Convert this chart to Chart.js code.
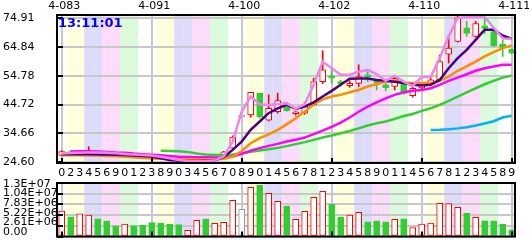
<!DOCTYPE html>
<html>
<head>
<meta charset="utf-8">
<script src="https://cdn.jsdelivr.net/npm/chart.js"></script>
<style>
  body { margin: 0; background: #fff; }
  #wrap { position: relative; width: 529px; height: 240px; overflow: hidden; }
  #main { position: absolute; left: 0; top: 0; }
  #vol { position: absolute; left: 0; top: 170px; }
</style>
</head>
<body>
<div id="wrap">
  <canvas id="main" width="529" height="182"></canvas>
  <canvas id="vol" width="529" height="70"></canvas>
</div>
<script>
// bottom digits under each candle
const digitLabels = ['0','2','3','4','5','6','9','0','1','2','3','8','9','0','3','4','5','6','7','0',
  '8','9','0','1','4','5','6','7','8','1','2','3','4','5','8','9','0','1','1','4',
  '5','6','7','8','1','2','3','4','5','8','9'];
const topLabels = ['4-083','4-091','4-100','4-102','4-110','4-111'];
const priceTicks = [24.60, 34.66, 44.72, 54.78, 64.84, 74.91];
const volTicks = [0, 2.61e6, 5.22e6, 7.83e6, 1.044e7, 1.305e7];
const volTickLabels = ['0.00','2.61E+06','5.22E+06','7.83E+06','1.04E+07','1.3E+07'];
const clockText = '13:11:01';

const open  = [27.0,28.3,27.2,27.8,28.4,27.9,27.5,27.1,27.4,27.0, 26.7,26.2,25.7,25.3,24.9,25.2,25.5,25.1,26.3,29.5,
               40.4,41.1,48.7,39.3,42.2,44.0,41.5,41.7,44.6,52.7, 54.7,52.7,51.3,52.1,55.1,53.1,51.6,51.0,52.1,47.8,
               50.5,51.9,53.3,62.3,66.7,71.5,68.5,72.2,70.2,65.8,64.0];
const high  = [28.6,28.8,28.0,30.0,28.6,28.1,27.7,27.6,27.5,27.2, 26.9,26.4,25.9,25.5,25.4,25.8,25.7,25.9,28.4,33.8,
               40.6,49.0,48.7,48.1,48.7,44.8,42.3,45.5,53.9,63.5, 57.4,53.2,53.0,58.6,56.2,53.5,52.7,54.7,52.5,50.8,
               52.0,54.0,62.0,68.8,75.8,73.8,73.7,74.8,70.6,67.3,64.2];
const low   = [26.8,27.3,27.0,27.6,27.6,27.3,27.0,26.9,26.8,26.5, 26.0,25.5,25.0,24.8,24.8,25.0,24.9,25.0,26.0,29.0,
               40.2,40.3,40.0,39.0,41.7,42.4,41.0,41.3,44.3,52.0, 52.1,51.2,50.7,51.0,52.7,49.8,49.5,49.8,48.3,47.3,
               50.2,51.6,53.0,59.2,66.5,68.5,68.3,69.5,65.0,61.5,62.4];
const close = [28.3,27.6,27.8,28.4,27.8,27.5,27.2,27.4,27.0,26.7, 26.2,25.7,25.3,25.0,25.2,25.5,25.1,25.6,28.2,33.4,
               40.4,49.0,40.5,43.4,46.1,42.6,41.9,44.5,52.7,56.8, 53.9,51.9,52.1,54.5,54.3,52.2,50.6,53.9,48.6,50.4,
               51.6,53.3,59.7,64.4,75.0,69.5,73.0,71.3,65.3,64.4,62.6];
const volume = [6.2,4.8,5.5,5.2,4.3,3.8,2.6,3.05,2.6,2.8, 3.4,3.2,3.05,2.9,1.5,3.95,4.3,3.2,3.45,8.8,
                6.6,12.0,12.55,10.5,8.6,7.45,4.2,6.15,9.55,11.0, 7.9,4.75,5.25,5.9,3.55,3.8,3.55,4.2,4.3,2.2,
                3.0,3.3,8.1,8.0,7.1,5.7,4.7,3.8,3.8,3.05,1.6].map(v => v * 1e6);

const ma5   = [27.6,27.8,27.9,28.0,28.0,27.9,27.7,27.5,27.3,27.1, 26.9,26.5,26.0,25.4,25.0,24.9,24.9,25.2,26.6,31.8,
               42.2,47.5,44.8,44.6,44.8,45.2,43.2,44.8,51.6,59.7, 57.4,55.1,55.1,56.2,56.8,55.3,53.0,54.7,52.7,51.2,
               54.3,54.3,60.9,68.5,74.9,75.3,75.3,75.3,71.5,67.8,67.6];
const ma10  = [27.4,27.4,27.4,27.4,27.3,27.3,27.2,27.1,26.9,26.8, 26.6,26.0,25.4,25.1,25.0,25.0,25.1,25.2,26.4,28.9,
               31.8,35.9,38.8,41.7,43.4,44.6,43.2,44.0,45.5,47.5, 49.5,51.6,53.7,53.8,53.8,53.3,53.0,52.7,52.2,51.6,
               51.4,51.6,53.3,57.4,60.9,63.8,67.3,70.8,70.8,68.8,67.6];
const ma20  = [27.0,27.0,27.0,26.9,26.9,26.8,26.7,26.5,26.3,26.1, 25.9,25.8,25.7,25.6,25.6,25.5,25.5,25.6,25.8,26.5,
               28.5,31.2,33.0,34.3,35.9,37.8,39.9,42.2,44.8,46.5, 47.5,48.1,49.0,49.8,51.0,51.8,52.7,53.1,52.4,52.2,
               52.2,52.2,53.0,54.5,56.5,58.0,59.7,61.5,63.0,64.4,65.3];
const ma30  = [null,28.3,28.4,28.4,28.3,28.2,28.0,27.9,27.6,27.4, 27.2,27.0,26.8,26.5,26.4,26.3,26.3,26.2,26.3,26.6,
               27.5,28.6,29.5,30.3,31.0,31.8,32.4,33.2,34.4,35.6, 36.9,38.4,40.2,42.2,44.0,45.5,46.9,48.1,49.0,49.5,
               49.8,50.4,51.6,53.0,54.1,55.3,56.5,57.4,58.0,58.6,58.6];
const ma60  = [null,null,null,null,null,null,null,null,null,null, null,28.6,28.5,28.4,28.2,27.6,27.3,27.1,27.1,27.3,
               27.7,28.2,28.7,29.1,29.6,30.2,30.9,31.6,32.4,33.2, 33.9,34.7,35.5,36.4,37.4,38.2,38.8,39.7,40.7,41.4,
               42.5,43.4,44.6,46.0,47.5,49.0,50.4,51.8,53.0,54.1,54.8];
const ma120 = [null,null,null,null,null,null,null,null,null,null, null,null,null,null,null,null,null,null,null,null,
               null,null,null,null,null,null,null,null,null,null, null,null,null,null,null,null,null,null,null,null,
               null,35.85,35.9,36.1,36.4,36.8,37.4,38.1,38.9,40.2,40.8];

const RED = '#ff0000', GREEN = '#32cd32', GRAY = '#8a9aaa';
const bandColors = ['#ffffdc', '#dcdcfa', '#fcdcfa', '#dcfadc', '#ffffff'];

const n = digitLabels.length;
const idx = [...Array(n).keys()];
const candleColor = i => close[i] > open[i] ? RED : (close[i] < open[i] ? GREEN : GRAY);
const candleFill = i => close[i] < open[i] ? GREEN : '#ffffff';
const XMIN = -0.52, XMAX = 50.37;

Chart.defaults.font.family = 'DejaVu Sans';
Chart.defaults.font.size = 11;
Chart.defaults.color = '#000';

const bandPlugin = {
  id: 'bands',
  beforeDraw(chart) {
    const {ctx, chartArea: a} = chart;
    const x = chart.scales.x;
    ctx.save();
    ctx.beginPath();
    ctx.rect(a.left, a.top, a.right - a.left, a.bottom - a.top);
    ctx.clip();
    idx.forEach(i => {
      const k = ((Math.floor((i - 1) / 2) % 5) + 5) % 5;
      const x0 = x.getPixelForValue(i - 0.5), x1 = x.getPixelForValue(i + 0.5);
      ctx.fillStyle = bandColors[k];
      ctx.fillRect(x0, a.top, x1 - x0, a.bottom - a.top);
    });
    ctx.restore();
  }
};

const framePlugin = {
  id: 'frame',
  afterDatasetsDraw(chart) {
    const {ctx, chartArea: a} = chart;
    const y = chart.scales.y, x = chart.scales.x;
    ctx.save();
    ctx.strokeStyle = '#000';
    ctx.lineWidth = 2;
    ctx.strokeRect(a.left, a.top, a.right - a.left, a.bottom - a.top);
    // short inner tick marks
    y.ticks.forEach(t => {
      const py = Math.round(y.getPixelForValue(t.value));
      ctx.beginPath(); ctx.moveTo(a.left, py); ctx.lineTo(a.left + 6, py); ctx.stroke();
    });
    [0, 10, 20, 30, 40, 50].forEach(v => {
      const px = Math.round(x.getPixelForValue(v));
      ctx.beginPath(); ctx.moveTo(px, a.bottom); ctx.lineTo(px, a.bottom - 5); ctx.stroke();
    });
    if (chart.canvas.id === 'main') {
      ctx.font = 'bold 13px "DejaVu Sans"';
      ctx.fillStyle = '#0000ff';
      ctx.textBaseline = 'top';
      ctx.fillText(clockText, a.left + 1, a.top + 2);
    }
    ctx.restore();
  }
};

function noPad(s) { s.paddingLeft = s.paddingRight = s.paddingTop = s.paddingBottom = 0; }
const gridStyle = { color: '#c8c8c8', lineWidth: 2, drawTicks: false, offset: false };

const lineDs = (data, color, order) => ({
  type: 'line',
  data: idx.map(i => ({x: i, y: data[i]})),
  borderColor: color, borderWidth: 2.5, pointRadius: 0, tension: 0,
  spanGaps: false, order: order
});

new Chart(document.getElementById('main'), {
  data: {
    datasets: [
      lineDs(ma5, '#ee82ee', 0),
      lineDs(ma10, '#4b0082', 1),
      lineDs(ma20, '#ff8c00', 2),
      lineDs(ma30, '#ff00ff', 3),
      lineDs(ma60, '#32cd32', 4),
      lineDs(ma120, '#00b4f0', 5),
      {
        type: 'bar', order: 6, grouped: false,
        data: idx.map(i => ({x: i, y: [open[i], close[i]]})),
        backgroundColor: idx.map(candleFill), borderColor: idx.map(candleColor),
        borderWidth: 1, borderSkipped: false, barThickness: 6, minBarLength: 2
      },
      {
        type: 'bar', order: 7, grouped: false,
        data: idx.map(i => ({x: i, y: [low[i], high[i]]})),
        backgroundColor: idx.map(candleColor), borderWidth: 0, barThickness: 1
      }
    ]
  },
  options: {
    responsive: false, animation: false, devicePixelRatio: 1,
    layout: { autoPadding: false, padding: { left: 3, right: 14, top: 0, bottom: 0 } },
    plugins: { legend: { display: false }, tooltip: { enabled: false } },
    scales: {
      x: {
        type: 'linear', position: 'bottom', min: XMIN, max: XMAX, offset: false,
        grid: { display: false, drawTicks: false, offset: false }, border: { display: false },
        afterBuildTicks: s => { s.ticks = idx.map(v => ({value: v})); },
        afterFit: s => { s.height = 19; noPad(s); },
        ticks: { autoSkip: false, maxRotation: 0, padding: 4, callback: v => digitLabels[v] }
      },
      xTop: {
        type: 'linear', position: 'top', min: XMIN, max: XMAX, offset: false,
        grid: gridStyle, border: { display: false },
        afterBuildTicks: s => { s.ticks = topLabels.map((t, k) => ({value: k * 10})); },
        afterFit: s => { s.height = 15; noPad(s); },
        ticks: { autoSkip: false, maxRotation: 0, padding: 2, labelOffset: 2.5,
                 callback: v => topLabels[Math.round(v / 10)] }
      },
      y: {
        type: 'linear', position: 'left', min: 24.32, max: 75.96,
        grid: gridStyle, border: { display: false },
        afterBuildTicks: s => { s.ticks = priceTicks.map(v => ({value: v})); },
        afterFit: s => { s.width = 54; noPad(s); },
        ticks: { autoSkip: false, crossAlign: 'far', callback: v => v.toFixed(2) }
      }
    }
  },
  plugins: [bandPlugin, framePlugin]
});

new Chart(document.getElementById('vol'), {
  data: {
    datasets: [{
      type: 'bar', grouped: false,
      data: idx.map(i => ({x: i, y: volume[i]})),
      backgroundColor: idx.map(candleFill), borderColor: idx.map(candleColor),
      borderWidth: 1, borderSkipped: false, barThickness: 6
    }]
  },
  options: {
    responsive: false, animation: false, devicePixelRatio: 1,
    layout: { autoPadding: false, padding: { left: 3, right: 14, top: 13, bottom: 3.5 } },
    plugins: { legend: { display: false }, tooltip: { enabled: false } },
    scales: {
      x: {
        type: 'linear', position: 'bottom', min: XMIN, max: XMAX, offset: false,
        grid: gridStyle, border: { display: false },
        afterBuildTicks: s => { s.ticks = [0, 10, 20, 30, 40, 50].map(v => ({value: v})); },
        afterFit: s => { s.height = 0; noPad(s); },
        ticks: { display: false }
      },
      y: {
        type: 'linear', position: 'left', min: 0, max: 1.305e7,
        grid: gridStyle, border: { display: false },
        afterBuildTicks: s => { s.ticks = volTicks.map(v => ({value: v})); },
        afterFit: s => { s.width = 0; noPad(s); },
        ticks: { display: false }
      },
      // the labels of the volume axis sit a little tighter than its grid lines
      yLab: {
        type: 'linear', position: 'left', min: -0.469, max: 5.104,
        grid: { display: false, drawTicks: false }, border: { display: false },
        afterBuildTicks: s => { s.ticks = volTickLabels.map((t, k) => ({value: k})); },
        afterFit: s => { s.width = 54; noPad(s); },
        ticks: { autoSkip: false, crossAlign: 'far', callback: v => volTickLabels[Math.round(v)] }
      }
    }
  },
  plugins: [bandPlugin, framePlugin]
});
</script>
</body>
</html>
